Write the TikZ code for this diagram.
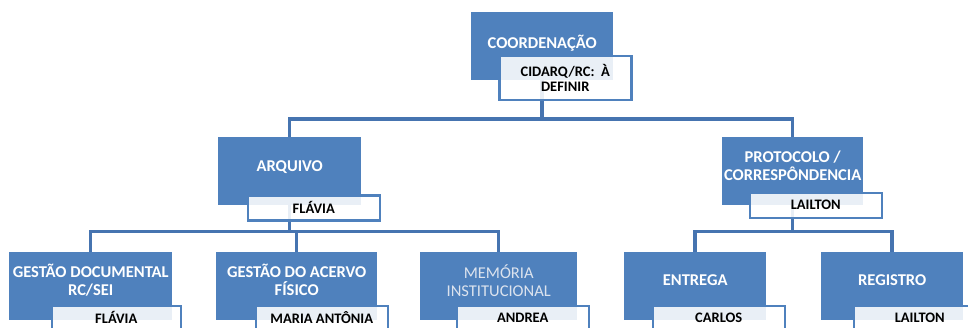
\documentclass[tikz,border=0pt]{standalone}
\usepackage{fontspec}
\setmainfont{Carlito}
\usepackage{tikz}
\usetikzlibrary{backgrounds}
\definecolor{boxblue}{HTML}{4F81BD}
\definecolor{linkblue}{HTML}{4674B0}
\definecolor{paleblue}{HTML}{DCE3EE}

\begin{document}
\begin{tikzpicture}[x=1pt,y=-1pt,
unit node/.style = {rectangle, fill=boxblue, anchor=north west, inner sep=0pt,
  minimum height=68pt, text=white, align=center, text depth=10pt,
  font=\fontsize{16.5}{18}\selectfont\bfseries},
name node/.style = {rectangle, draw=boxblue, line width=2.5pt, fill=white,
  fill opacity=0.88, text opacity=1, anchor=north west, inner sep=0pt,
  minimum width=132pt, minimum height=27pt, align=center,
  font=\fontsize{14.5}{15}\selectfont\bfseries},
link/.style = {draw=linkblue, line width=3.5pt}]
\useasboundingbox (0,0) rectangle (968,327);

% top
\node[unit node, minimum width=142pt, text depth=8pt] (coord) at (471,12) {COORDENAÇÃO};
\node[name node, minimum height=44pt] (coord name) at (498,54.5) {CIDARQ/RC:~~À\\DEFINIR};

% middle row
\node[unit node, minimum width=143pt] (arq) at (218,137) {ARQUIVO};
\node[name node, minimum height=25pt] (arq name) at (246.5,194) {FLÁVIA};
\node[unit node, minimum width=141pt] (prot) at (722,137) {PROTOCOLO /\\CORRESPÔNDENCIA};
\node[name node, minimum height=25pt] (prot name) at (748.5,191.5) {LAILTON};

% bottom row
\node[unit node, minimum width=163pt, text depth=12pt] (gdoc) at (9,252) {GESTÃO DOCUMENTAL\\RC/SEI};
\node[name node, minimum width=129pt, minimum height=24pt] (gdoc name) at (50.5,304.5) {FLÁVIA};
\node[unit node, minimum width=161pt, text depth=12pt] (gacervo) at (216,252) {GESTÃO DO ACERVO\\FÍSICO};
\node[name node, minimum height=24pt] (gacervo name) at (254.5,304.5) {MARIA ANTÔNIA};
\node[unit node, minimum width=157pt, text depth=12pt, text=paleblue,
  font=\fontsize{16.5}{18}\selectfont] (memoria) at (420,252) {MEMÓRIA\\INSTITUCIONAL};
\node[name node, minimum height=24pt] (memoria name) at (455.5,304.5) {ANDREA};
\node[unit node, minimum width=142pt, text depth=12pt] (entrega) at (624,252) {ENTREGA};
\node[name node, minimum height=24pt] (entrega name) at (651.5,304.5) {CARLOS};
\node[unit node, minimum width=142pt, text depth=12pt] (registro) at (821,252) {REGISTRO};
\node[name node, minimum height=24pt] (registro name) at (852.5,304.5) {LAILTON};

\coordinate (upper bar) at (0,119);
\coordinate (lower bar) at (0,231.5);

\begin{pgfonlayer}{background}
\draw[link] (coord.south) -- (coord.south |- upper bar);
\draw[link] (arq.north) -- (arq.north |- upper bar) -- (prot.north |- upper bar) -- (prot.north);
\draw[link] (arq.south) -- (arq.south |- lower bar);
\draw[link] (gacervo.north) -- (gacervo.north |- lower bar);
\draw[link] (gdoc.north) -- (gdoc.north |- lower bar) -- (memoria.north |- lower bar) -- (memoria.north);
\draw[link] (prot.south) -- (prot.south |- lower bar);
\draw[link] (entrega.north) -- (entrega.north |- lower bar) -- (registro.north |- lower bar) -- (registro.north);
\end{pgfonlayer}
\end{tikzpicture}
\end{document}
